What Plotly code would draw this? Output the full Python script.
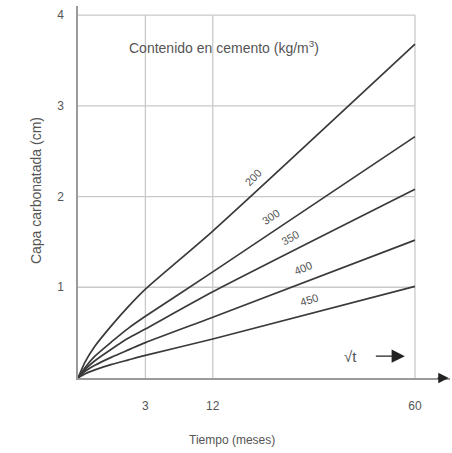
import numpy as np
import plotly.graph_objects as go

# x positions (relative axis units) where the time ticks sit
time_pos = [0, 0.1, 0.25, 0.5, 0.75, 1, 2, 5]
tick_pos = [1, 2, 5]
tick_labels = ["3", "12", "60"]
y_ticks = [1, 2, 3, 4]

cement = ["200", "300", "350", "400", "450"]
depth_200 = [0, 0.17, 0.35, 0.58, 0.79, 0.98, 1.62, 3.68]
depth_300 = [0, 0.11, 0.24, 0.40, 0.55, 0.68, 1.17, 2.66]
depth_350 = [0, 0.09, 0.19, 0.32, 0.44, 0.54, 0.95, 2.08]
depth_400 = [0, 0.07, 0.14, 0.23, 0.31, 0.39, 0.67, 1.52]
depth_450 = [0, 0.045, 0.09, 0.15, 0.20, 0.25, 0.43, 1.01]
series = [depth_200, depth_300, depth_350, depth_400, depth_450]

label_u = [2.65, 2.92, 3.2, 3.4, 3.48]
label_angle = [-46, -34, -29, -23, -17]

FONT = "Liberation Sans Narrow, Liberation Sans, Arial, sans-serif"
TXT = "#555555"
GRID = "#c9c9c9"
LINE = "#3a3a3a"

fig = go.Figure()

for name, ys in zip(cement, series):
    fig.add_trace(go.Scatter(x=time_pos, y=ys, mode="lines", name=name,
                             line=dict(color=LINE, width=1.7, shape="spline", smoothing=0.6),
                             showlegend=False, hoverinfo="skip"))

shapes = []
for xv in tick_pos:
    shapes.append(dict(type="line", xref="x", yref="y", x0=xv, x1=xv, y0=0, y1=max(y_ticks),
                       line=dict(color=GRID, width=1.3), layer="below"))
for yv in y_ticks:
    shapes.append(dict(type="line", xref="x", yref="y", x0=0, x1=max(tick_pos), y0=yv, y1=yv,
                       line=dict(color=GRID, width=1.3), layer="below"))

annotations = []
for name, ys, u, ang in zip(cement, series, label_u, label_angle):
    v = float(np.interp(u, time_pos, ys))
    annotations.append(dict(x=u, y=v, text=name, showarrow=False, textangle=ang,
                            yshift=13, xshift=-4, font=dict(family=FONT, size=11, color=TXT)))

# title inside plot
annotations.append(dict(x=0.72, y=3.65, xref="x", yref="y", xanchor="left",
                        text="Contenido en cemento (kg/m<sup>3</sup>)",
                        showarrow=False, font=dict(family=FONT, size=14, color=TXT)))
# y title
annotations.append(dict(x=-0.113, y=0.505, xref="paper", yref="paper", xanchor="center",
                        yanchor="middle", text="Capa carbonatada (cm)",
                        showarrow=False, textangle=-90, font=dict(family=FONT, size=14, color=TXT)))
# x title
annotations.append(dict(x=0.414, y=-0.167, xref="paper", yref="paper", xanchor="center",
                        yanchor="middle", text="Tiempo (meses)",
                        showarrow=False, font=dict(family=FONT, size=12, color=TXT)))
# sqrt t arrow
annotations.append(dict(x=4.85, y=0.24, ax=-32, ay=0, axref="pixel", ayref="pixel", text=" ",
                        showarrow=True, arrowhead=2, arrowsize=2.2, arrowwidth=1.2, arrowcolor="#222"))
annotations.append(dict(x=4.05, y=0.235, text="√t", showarrow=False,
                        font=dict(family=FONT, size=15, color=TXT)))
# x axis arrow head
annotations.append(dict(x=5.5, y=0, ax=-14, ay=0, text=" ", showarrow=True, arrowhead=2,
                        arrowsize=1.6, arrowwidth=1.3, arrowcolor="#222"))

fig.update_layout(
    width=452, height=453,
    margin=dict(l=78, r=2, t=6, b=75),
    plot_bgcolor="white", paper_bgcolor="white",
    shapes=shapes,
    annotations=annotations,
    xaxis=dict(range=[0, 5.52], tickvals=tick_pos, ticktext=tick_labels, showgrid=False,
               zeroline=False, showline=True, linecolor="#9a9a9a", linewidth=1.5,
               ticks="", ticklabelstandoff=16,
               tickfont=dict(family=FONT, size=12, color=TXT)),
    yaxis=dict(range=[0, 4.1], tickvals=y_ticks, showgrid=False, zeroline=False,
               showline=True, linecolor="#9a9a9a", linewidth=1.5, ticks="",
               ticklabelstandoff=10,
               tickfont=dict(family=FONT, size=12, color=TXT)),
)

fig.write_html("out.html", config={"displayModeBar": False},
               post_script="document.body.style.margin='0';document.body.style.overflow='hidden';")
